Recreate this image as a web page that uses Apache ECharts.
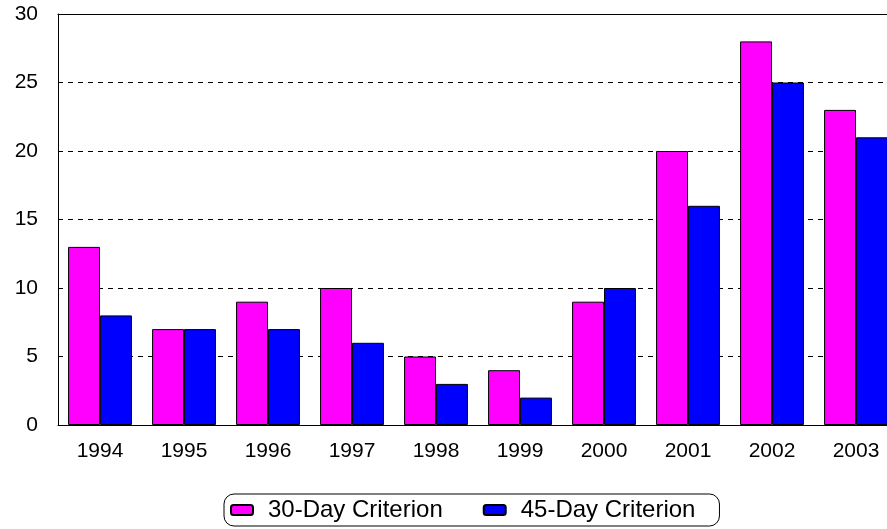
<!DOCTYPE html>
<html>
<head>
<meta charset="utf-8">
<script src="https://cdn.jsdelivr.net/npm/echarts@6/dist/echarts.min.js"></script>
<style>
  html, body { margin: 0; padding: 0; background: #fff; overflow: hidden; }
  /* 图表比窗口稍宽，最后一根柱子被裁掉一部分 */
  #chart { width: 898px; height: 529px; }
</style>
</head>
<body>
<div id="chart"></div>
<script>
// 数据
var years = ['1994', '1995', '1996', '1997', '1998', '1999', '2000', '2001', '2002', '2003'];
var day30 = [13, 7, 9, 10, 5, 4, 9, 20, 28, 23];
var day45 = [8, 7, 7, 6, 3, 2, 10, 16, 25, 21];
var yTicks = [0, 5, 10, 15, 20, 25, 30];

var chart = echarts.init(document.getElementById('chart'));
var font = 'Liberation Sans, Arial, sans-serif';

var option = {
  animation: false,
  grid: { left: 58, right: 0, top: 14, bottom: 104 },
  legend: {
    top: 494,
    left: 224,
    data: ['30-Day Criterion', '45-Day Criterion'],
    itemWidth: 22,
    itemHeight: 10,
    itemGap: 40,
    padding: [4, 24, 4, 6],
    borderColor: '#000',
    borderWidth: 1,
    borderRadius: 10,
    textStyle: { fontFamily: font, fontSize: 24, color: '#000', padding: [0, 0, 0, 10] }
  },
  xAxis: [{
    type: 'category',
    data: years,
    axisLine: { show: true, lineStyle: { color: '#000', width: 1 } },
    axisTick: { show: false },
    axisLabel: { fontFamily: font, fontSize: 21, color: '#000', margin: 16 }
  }, {
    // 顶部实线
    type: 'category',
    position: 'top',
    data: years,
    axisLine: { show: true, lineStyle: { color: '#000', width: 1 } },
    axisTick: { show: false },
    axisLabel: { show: false }
  }],
  yAxis: {
    type: 'value',
    min: yTicks[0],
    max: yTicks[yTicks.length - 1],
    interval: 5,
    axisLine: { show: true, lineStyle: { color: '#000', width: 1 } },
    axisTick: { show: false },
    axisLabel: { fontFamily: font, fontSize: 21, color: '#000', margin: 20 },
    splitLine: { show: true, lineStyle: { color: '#000', width: 1, type: [5, 5] } }
  },
  series: [{
    name: '30-Day Criterion',
    type: 'bar',
    data: day30,
    barGap: '0%',
    barCategoryGap: '24%',
    itemStyle: { color: '#ff00ff', borderColor: '#000', borderWidth: 1 }
  }, {
    name: '45-Day Criterion',
    type: 'bar',
    data: day45,
    itemStyle: { color: '#0000ff', borderColor: '#000', borderWidth: 1 }
  }]
};

chart.setOption(option);
</script>
</body>
</html>
